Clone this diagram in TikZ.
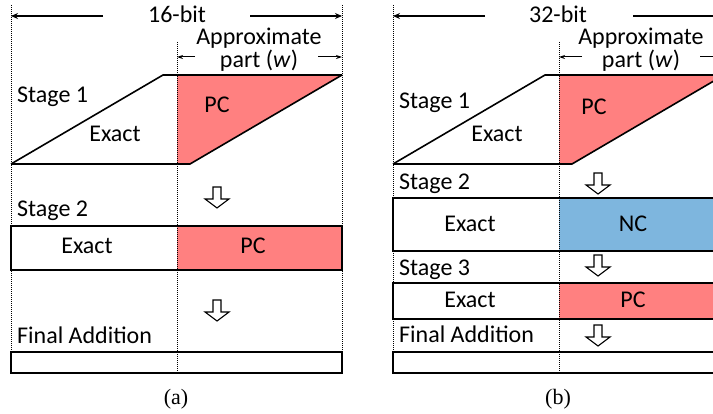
\documentclass[tikz,border=0pt]{standalone}
\usepackage{fontspec}
\setmainfont{Carlito}
\newfontfamily\capfont{Liberation Serif}
\usetikzlibrary{arrows.meta}
\definecolor{pcred}{RGB}{255,128,128}
\definecolor{ncblue}{RGB}{126,182,222}
\begin{document}
\begin{tikzpicture}[x=1pt,y=-1pt,
  lbl/.style={font=\fontsize{24}{28}\selectfont, inner sep=0pt, anchor=base},
  stagelbl/.style={lbl, anchor=base west},
  twoline/.style={font=\fontsize{24}{20}\selectfont, inner sep=0pt, align=center, anchor=center},
  guide/.style={densely dotted, line width=1pt},
  edge/.style={line width=1.6pt},
  dim/.style={line width=1.5pt, -{Stealth[length=7pt,width=6pt]}},
  subdim/.style={line width=1pt, -{Stealth[length=6pt,width=4pt]}},
  caption/.style={font=\capfont\fontsize{22}{26}\selectfont, inner sep=0pt, anchor=base},
  blockarrow/.pic={\draw[line width=1.1pt, fill=white, line join=miter]
      (-4,0) -- (4,0) -- (4,12) -- (12,12) -- (0,21) -- (-12,12) -- (-4,12) -- cycle;}]
\useasboundingbox (0,0) rectangle (713,414);
\clip (0,0) rectangle (713,414);

% ================= panel (a): 16-bit =================
% coloured regions
\fill[pcred] (177,75) -- (342,75) -- (190,164) -- (177,164) -- cycle;
\fill[pcred] (177,226) rectangle (342,270);
% stage 1 partial-product parallelogram
\draw[edge] (11,164) -- (163,75) -- (342,75);
\draw[edge] (11,164) -- (190,164) -- (342,75);
% stage 2 row
\draw[edge] (11,226) rectangle (342,270);
% final addition row
\draw[edge] (11,352) rectangle (342,373);
% guides
\draw[guide] (11,5) -- (11,352);
\draw[guide] (342,5) -- (342,352);
\draw[guide] (177,42) -- (177,373);
% width annotations
\node[lbl] (bitsA) at (177,23) {16-bit};
\coordinate (bitsAl) at (103,16); \coordinate (bitsAL) at (11,16);
\coordinate (bitsAr) at (250,16); \coordinate (bitsAR) at (342,16);
\draw[dim] (bitsAl) -- (bitsAL);
\draw[dim] (bitsAr) -- (bitsAR);
\node[twoline] (apxA) at (259,49.5) {Approximate\\part (\textit{w})};
\coordinate (partAl) at (195,57); \coordinate (partAL) at (177,57);
\coordinate (partAr) at (318,57); \coordinate (partAR) at (342,57);
\draw[subdim] (partAl) -- (partAL);
\draw[subdim] (partAr) -- (partAR);
% labels
\node[stagelbl] (s1A) at (17,103) {Stage 1};
\node[lbl] (ex1A) at (115,142) {Exact};
\node[lbl] (pc1A) at (217,113) {PC};
\node[stagelbl] (s2A) at (17,217) {Stage 2};
\node[lbl] (ex2A) at (87,254) {Exact};
\node[lbl] (pc2A) at (253,254) {PC};
\node[stagelbl] (faA) at (17,344) {Final Addition};
\pic at (217,187) {blockarrow};
\pic at (217,300) {blockarrow};
\node[caption] (capA) at (176,404) {(a)};

% ================= panel (b): 32-bit =================
\fill[pcred] (559,75) -- (724,75) -- (572,164) -- (559,164) -- cycle;
\fill[ncblue] (559,198) rectangle (724,251);
\fill[pcred] (559,283) rectangle (724,319);
\draw[edge] (393,164) -- (545,75) -- (724,75);
\draw[edge] (393,164) -- (572,164) -- (724,75);
\draw[edge] (393,198) rectangle (724,251);
\draw[edge] (393,283) rectangle (724,319);
\draw[edge] (393,352) rectangle (724,373);
\draw[guide] (393,5) -- (393,352);
\draw[guide] (559,42) -- (559,373);
\node[lbl] (bitsB) at (558,23) {32-bit};
\coordinate (bitsBl) at (485,16); \coordinate (bitsBL) at (393,16);
\coordinate (bitsBr) at (633,16); \coordinate (bitsBR) at (724,16);
\draw[dim] (bitsBl) -- (bitsBL);
\draw[dim] (bitsBr) -- (bitsBR);
\node[twoline] (apxB) at (641,49.5) {Approximate\\part (\textit{w})};
\coordinate (partBl) at (582,57); \coordinate (partBL) at (559,57);
\coordinate (partBr) at (700,57); \coordinate (partBR) at (724,57);
\draw[subdim] (partBl) -- (partBL);
\draw[subdim] (partBr) -- (partBR);
\node[stagelbl] (s1B) at (399,109) {Stage 1};
\node[lbl] (ex1B) at (497,142) {Exact};
\node[lbl] (pc1B) at (594,115) {PC};
\node[stagelbl] (s2B) at (399,190) {Stage 2};
\node[lbl] (ex2B) at (470,232) {Exact};
\node[lbl] (nc2B) at (633,232) {NC};
\node[stagelbl] (s3B) at (399,276) {Stage 3};
\node[lbl] (ex3B) at (470,308) {Exact};
\node[lbl] (pc3B) at (633,308) {PC};
\node[stagelbl] (faB) at (399,343) {Final Addition};
\pic at (598,173) {blockarrow};
\pic at (598,255) {blockarrow};
\pic at (598,325) {blockarrow};
\node[caption] (capB) at (558,404) {(b)};
\end{tikzpicture}
\end{document}
